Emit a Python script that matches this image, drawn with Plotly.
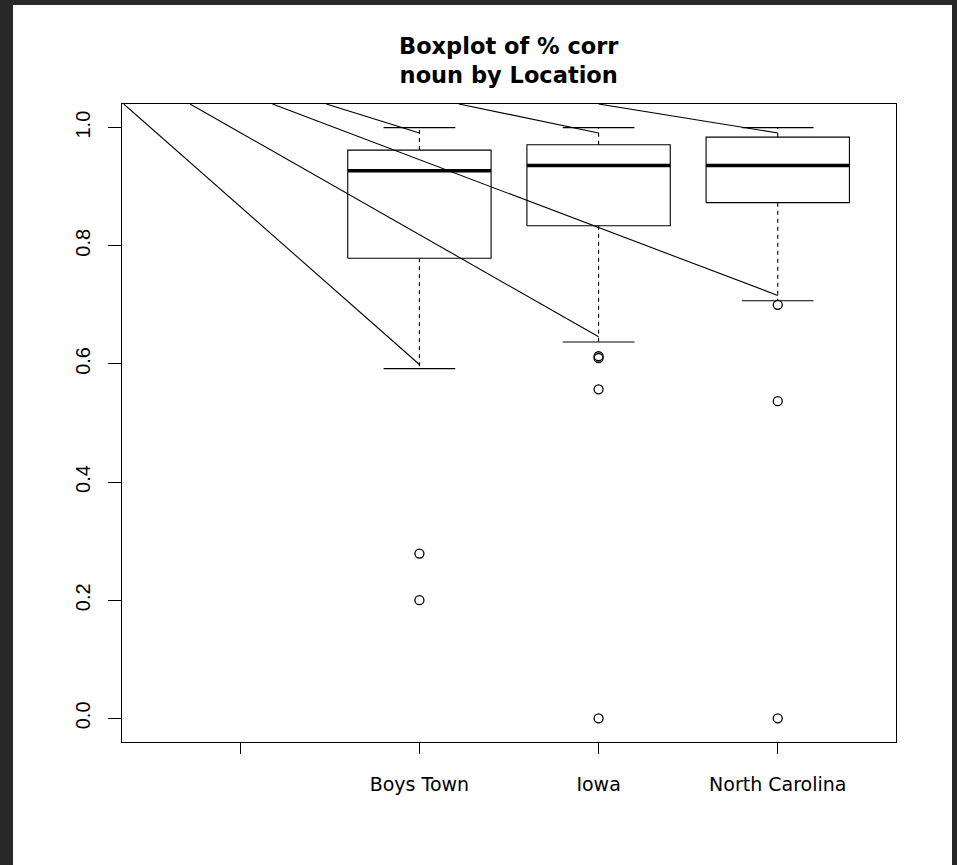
import plotly.graph_objects as go

# ---------------- data ----------------
categories = ["", "Boys Town", "Iowa", "North Carolina"]
groups = ["Boys Town", "Iowa", "North Carolina"]
q1 = [0.779, 0.834, 0.873]
medians = [0.927, 0.936, 0.936]
q3 = [0.962, 0.971, 0.984]
whisker_low = [0.592, 0.637, 0.707]
whisker_high = [1.0, 1.0, 1.0]
outliers_boys_town = [0.279, 0.200]
outliers_iowa = [0.613, 0.610, 0.557, 0.0]
outliers_north_carolina = [0.700, 0.537, 0.0]
y_ticks = [0.0, 0.2, 0.4, 0.6, 0.8, 1.0]

# stray line segments from the top frame to whisker ends
stray_start_x = [0.35, 0.72, 1.18, 1.48, 2.22, 3.0]
stray_end_group = ["Boys Town", "Iowa", "North Carolina", "Boys Town", "Iowa", "North Carolina"]
stray_end_y = [0.599, 0.646, 0.716, 0.991, 0.991, 0.991]

Y_RANGE = [-0.04, 1.04]
X_RANGE = [0.34, 4.66]
BOX_HALF = 0.4
CAP_HALF = 0.2

outliers = [outliers_boys_town, outliers_iowa, outliers_north_carolina]


def pos(g):
    return categories.index(g) + 1


fig = go.Figure()
line_style = dict(color="black", width=1.1)

for i, g in enumerate(groups):
    p = pos(g)
    # box
    fig.add_trace(go.Scatter(
        x=[p - BOX_HALF, p + BOX_HALF, p + BOX_HALF, p - BOX_HALF, p - BOX_HALF],
        y=[q1[i], q1[i], q3[i], q3[i], q1[i]],
        mode="lines", line=line_style, hoverinfo="skip", showlegend=False))
    # median
    fig.add_trace(go.Scatter(
        x=[p - BOX_HALF, p + BOX_HALF], y=[medians[i], medians[i]],
        mode="lines", line=dict(color="black", width=3.5), showlegend=False,
        hoverinfo="skip"))
    # whiskers (dashed)
    fig.add_trace(go.Scatter(
        x=[p, p, None, p, p],
        y=[q1[i], whisker_low[i], None, q3[i], whisker_high[i]],
        mode="lines", line=dict(color="black", width=1.1, dash="4px,4px"),
        showlegend=False, hoverinfo="skip"))
    # caps
    fig.add_trace(go.Scatter(
        x=[p - CAP_HALF, p + CAP_HALF, None, p - CAP_HALF, p + CAP_HALF],
        y=[whisker_low[i], whisker_low[i], None, whisker_high[i], whisker_high[i]],
        mode="lines", line=line_style, showlegend=False, hoverinfo="skip"))
    # outliers
    fig.add_trace(go.Scatter(
        x=[p] * len(outliers[i]), y=outliers[i], mode="markers",
        marker=dict(symbol="circle-open", size=9, color="black",
                    line=dict(width=1.3, color="black")),
        showlegend=False, hoverinfo="skip"))

# stray lines
for sx, eg, ey in zip(stray_start_x, stray_end_group, stray_end_y):
    fig.add_trace(go.Scatter(
        x=[sx, pos(eg)], y=[Y_RANGE[1], ey], mode="lines",
        line=line_style, showlegend=False, hoverinfo="skip", cliponaxis=True))

W, H = 957, 865
L, R, T, B = 122, 61, 104, 123
pw, ph = W - L - R, H - T - B

# white page area inside a dark frame (pixels -> paper coords)
page_px = dict(x0=13, x1=952, y0=5, y1=865)
fig.add_shape(type="rect", xref="paper", yref="paper", layer="below",
              x0=(page_px["x0"] - L) / pw, x1=(page_px["x1"] - L) / pw,
              y0=(H - B - page_px["y1"]) / ph, y1=(H - B - page_px["y0"]) / ph,
              fillcolor="white", line=dict(width=0))

fig.add_annotation(
    text="<b>Boxplot of % corr<br>noun by Location</b>",
    xref="paper", yref="paper", x=0.5, y=1, xanchor="center", yanchor="bottom",
    yshift=14, showarrow=False,
    font=dict(family="DejaVu Sans", size=22.5, color="black"))

fig.update_layout(
    width=W, height=H,
    margin=dict(l=L, r=R, t=T, b=B, pad=0),
    paper_bgcolor="#292929", plot_bgcolor="white",
    xaxis=dict(range=X_RANGE, tickvals=[1, 2, 3, 4], ticktext=categories,
               showgrid=False, zeroline=False, showline=True, mirror=True,
               linecolor="black", linewidth=1, ticks="outside", ticklen=11,
               tickcolor="black", tickwidth=1, ticklabelstandoff=14,
               tickfont=dict(family="DejaVu Sans", size=19, color="black")),
    yaxis=dict(range=Y_RANGE, tickvals=y_ticks, tickformat=".1f",
               showgrid=False, zeroline=False, showline=True, mirror=True,
               linecolor="black", linewidth=1, ticks="outside", ticklen=13,
               tickcolor="black", tickwidth=1, tickangle=-90,
               ticklabelstandoff=10,
               tickfont=dict(family="Liberation Sans", size=20, color="black")),
)

fig.write_html("out.html")
